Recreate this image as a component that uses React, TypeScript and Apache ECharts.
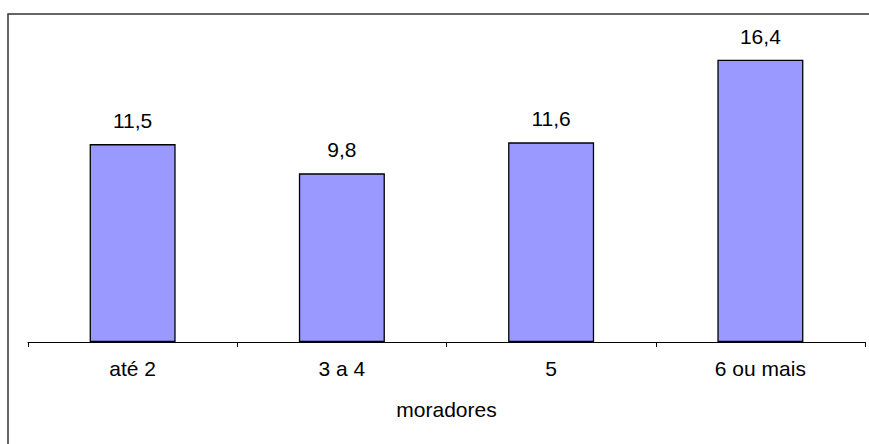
import React, { useEffect, useRef } from "react";
import * as echarts from "echarts";

const categories = ["até 2", "3 a 4", "5", "6 ou mais"];
const values = [11.5, 9.8, 11.6, 16.4];
const axisTitle = "moradores";

const FONT = "'Liberation Sans', Arial, sans-serif";

export default function App() {
  const ref = useRef<HTMLDivElement>(null);

  useEffect(() => {
    if (!ref.current) return;
    const chart = echarts.init(ref.current, null, { renderer: "svg" });
    chart.setOption({
      animation: false,
      backgroundColor: "#ffffff",
      grid: { left: 28, right: 4, top: 15, bottom: 102, containLabel: false },
      xAxis: {
        type: "category",
        data: categories,
        axisLine: { show: true, lineStyle: { color: "#000000", width: 1 } },
        axisTick: { show: true, inside: false, length: 5, lineStyle: { color: "#000000" } },
        axisLabel: { color: "#000000", fontSize: 21, fontFamily: FONT, margin: 16 },
        name: axisTitle,
        nameLocation: "middle",
        nameGap: 57,
        nameTextStyle: { color: "#000000", fontSize: 21, fontFamily: FONT },
      },
      yAxis: {
        type: "value",
        min: 0,
        max: 19,
        show: false,
        splitLine: { show: false },
      },
      series: [
        {
          type: "bar",
          data: values,
          barWidth: 86,
          itemStyle: { color: "#9999ff", borderColor: "#000000", borderWidth: 1.3 },
          label: {
            show: true,
            position: "top",
            distance: 13,
            color: "#000000",
            fontSize: 21,
            fontFamily: FONT,
            formatter: (p: any) => String(p.value).replace(".", ","),
          },
        },
      ],
      graphic: [
        {
          type: "rect",
          shape: { x: 8, y: 14, width: 1000, height: 1000 },
          style: { fill: "none", stroke: "#333333", lineWidth: 1.5 },
          silent: true,
        },
      ],
    });
    return () => chart.dispose();
  }, []);

  return (
    <div
      ref={ref}
      style={{ position: "absolute", left: 0, top: 0, width: 869, height: 444 }}
    />
  );
}
